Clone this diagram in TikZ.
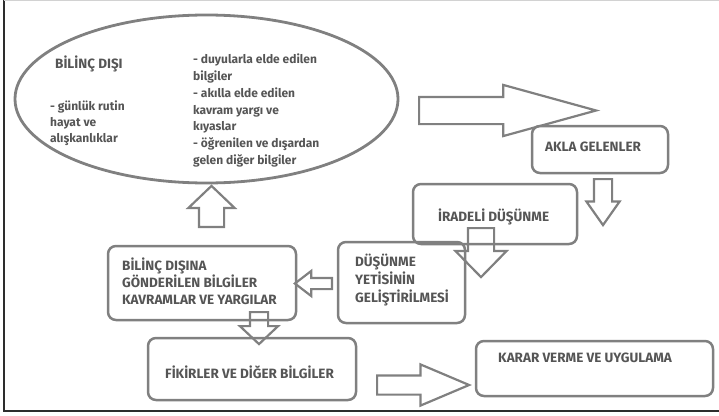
\documentclass[tikz,border=0pt]{standalone}
\usepackage{fontspec}
\setmainfont{Fira Sans}
\usetikzlibrary{shapes.geometric,shapes.arrows}
\definecolor{boxgray}{RGB}{128,128,128}
\definecolor{txtgray}{RGB}{85,85,85}
\definecolor{framegray}{RGB}{45,45,45}
\begin{document}
\begin{tikzpicture}[x=1pt,y=-1pt,
    box/.style={draw=boxgray, line width=2.5pt, rounded corners=8pt, inner sep=0pt},
    bigarrow/.style={single arrow, draw=boxgray, line width=2.2pt, inner xsep=0pt, anchor=tail},
    lbl/.style={font=\bfseries\fontsize{13.5}{17}\selectfont, text=txtgray, inner sep=0pt, anchor=west, align=left},
    smalllbl/.style={lbl, font=\bfseries\fontsize{12}{16.8}\selectfont}]
    \useasboundingbox (0,0) rectangle (719,415);
    % frame
    \draw[framegray, line width=2pt] (4,0) -- (4,411) -- (719,411);
    \draw[gray!35, line width=1pt] (4,0.5) -- (719,0.5);

    % oval and boxes
    \node[ellipse, draw=boxgray, line width=2.8pt, minimum width=383pt, minimum height=168pt, inner sep=0pt] (bilincdisi) at (206.5,99) {};
    \node[box, minimum width=136pt, minimum height=47pt] (akla) at (600,149.5) {};
    \node[box, minimum width=164pt, minimum height=60pt] (irade) at (495,214) {};
    \node[box, minimum width=127pt, minimum height=81pt] (yeti) at (401.5,282.5) {};
    \node[box, minimum width=188pt, minimum height=74pt] (gonder) at (202,283) {};
    \node[box, minimum width=208pt, minimum height=62pt] (fikir) at (252,369) {};
    \node[box, minimum width=237pt, minimum height=55pt] (karar) at (594.5,368.5) {};

    % texts
    \node[lbl] (bilincT) at (55,64) {BİLİNÇ DIŞI};
    \node[smalllbl, font=\bfseries\fontsize{12}{16}\selectfont] (rutinT) at (50,123) {- günlük rutin\\hayat ve\\alışkanlıklar};
    \node[smalllbl] (bilgiT) at (193,110.5) {- duyularla elde edilen\\bilgiler\\- akılla elde edilen\\kavram yargı ve\\kıyaslar\\- öğrenilen ve dışardan\\gelen diğer bilgiler};
    \node[lbl] (aklaT) at (545,147) {AKLA GELENLER};
    \node[lbl] (iradeT) at (438,217) {İRADELİ DÜŞÜNME};
    \node[lbl, font=\bfseries\fontsize{13.5}{18}\selectfont] (yetiT) at (355,280) {DÜŞÜNME\\YETİSİNİN\\GELİŞTİRİLMESİ};
    \node[lbl] (gonderT) at (122,281) {BİLİNÇ DIŞINA\\GÖNDERİLEN BİLGİLER\\KAVRAMLAR VE YARGILAR};
    \node[lbl] (fikirT) at (165,372) {FİKİRLER VE DİĞER BİLGİLER};
    \node[lbl] (kararT) at (498,358) {KARAR VERME VE UYGULAMA};

    % block arrows
    \node[bigarrow, inner ysep=12.5pt, minimum height=177pt, minimum width=49pt, single arrow head extend=12pt, single arrow tip angle=30.8] (toAkla) at (418,110.5) {};
    \node[bigarrow, rotate=-90, inner ysep=8pt, minimum height=46pt, minimum width=31pt, single arrow head extend=7.5pt, single arrow tip angle=70.3] (toIrade) at (603,178) {};
    \node[bigarrow, rotate=-90, inner ysep=12pt, minimum height=49pt, minimum width=49pt, single arrow head extend=12.5pt, single arrow tip angle=88.8] (toYeti) at (481,227) {};
    \node[bigarrow, rotate=180, inner ysep=4.5pt, minimum height=37pt, minimum width=23pt, single arrow head extend=7pt, single arrow tip angle=75] (toGonder) at (333,283.5) {};
    \node[bigarrow, rotate=90, inner ysep=11.5pt, minimum height=41pt, minimum width=44pt, single arrow head extend=10.5pt, single arrow tip angle=92.7] (toBilinc) at (211.5,228) {};
    \node[bigarrow, rotate=-90, inner ysep=8pt, minimum height=32pt, minimum width=36pt, single arrow head extend=10pt, single arrow tip angle=93.4] (toFikir) at (259,311) {};
    \node[bigarrow, inner ysep=8.5pt, minimum height=92pt, minimum width=39pt, single arrow head extend=11pt, single arrow tip angle=45.9] (toKarar) at (376,385) {};
\end{tikzpicture}
\end{document}
